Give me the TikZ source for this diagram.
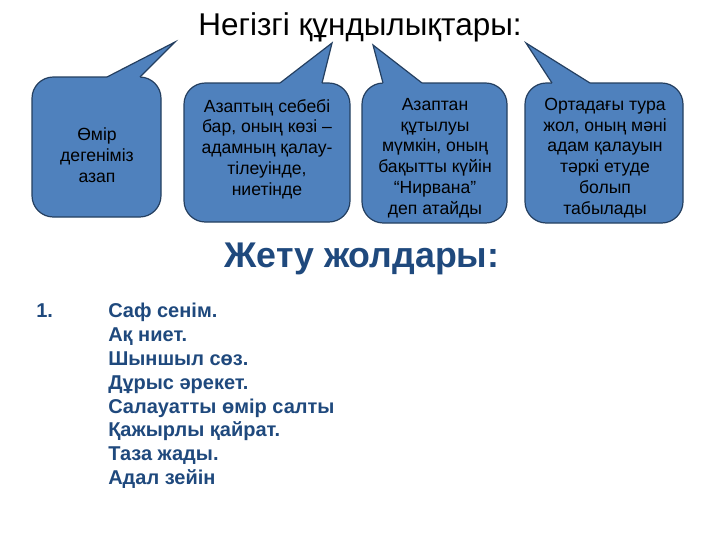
\documentclass[tikz,border=0pt]{standalone}
\usepackage{fontspec}
\setmainfont{Liberation Sans}
\definecolor{cfill}{HTML}{4F81BD}
\definecolor{cline}{HTML}{243F60}
\definecolor{hblue}{HTML}{1F497D}
\newcommand{\mycallout}[9]{%
  % #1 left, #2 top, #3 right, #4 bottom, #5 base left, #6 base right, #7 tip x, #8 tip y
  \filldraw[fill=cfill,draw=cline,line width=0.9pt,rounded corners=16pt] (#1,#2) rectangle (#3,#4);
  \fill[cfill] (#5,#2+2) -- (#5,#2) -- (#7,#8) -- (#6,#2) -- (#6,#2+2) -- cycle;
  \draw[cline,line width=0.9pt,line join=miter] (#5,#2) -- (#7,#8) -- (#6,#2);
  \coordinate (#9) at (#7,#8);
}
\tikzset{
  ctext/.style={align=center,font=\fontsize{13.2}{15.6}\selectfont,text=black,inner sep=0pt},
  litem/.style={anchor=base west,font=\fontsize{15}{18}\selectfont\bfseries,text=hblue,inner sep=0pt}
}
\begin{document}
\begin{tikzpicture}[x=0.75pt,y=-0.75pt]
\useasboundingbox (0,0) rectangle (720,540);
\node[anchor=base,font=\fontsize{23.6}{27}\selectfont,inner sep=0pt] (title) at (360,35) {Негізгі құндылықтары:};
\mycallout{32}{77}{161}{217}{107}{140}{175}{42}{tip1}
\mycallout{184}{83}{350}{222}{280}{322}{332}{43}{tip2}
\mycallout{362}{83}{507}{223}{383}{422}{373}{45}{tip3}
\mycallout{525}{83}{683}{223}{552}{590}{526}{43}{tip4}
\node[ctext] (t1) at (97,155) {Өмір\\дегеніміз\\азап};
\node[ctext] (t2) at (267,149) {Азаптың себебі\\бар, оның көзі –\\адамның қалау-\\тілеуінде,\\ниетінде};
\node[ctext] (t3) at (435,158) {Азаптан\\құтылуы\\мүмкін, оның\\бақытты күйін\\“Нирвана”\\деп атайды};
\node[ctext] (t4) at (605,158) {Ортадағы тура\\жол, оның мәні\\адам қалауын\\тәркі етуде\\болып\\табылады};
\node[anchor=base,font=\fontsize{26.8}{30}\selectfont\bfseries,text=hblue,inner sep=0pt] (head) at (362,267) {Жету жолдары:};
\node[litem] (num) at (36,317) {1.};
\node[litem] (l1) at (108,317) {Саф сенім.};
\node[litem] (l2) at (108,341) {Ақ ниет.};
\node[litem] (l3) at (108,365) {Шыншыл сөз.};
\node[litem] (l4) at (108,389) {Дұрыс әрекет.};
\node[litem] (l5) at (108,413) {Салауатты өмір салты};
\node[litem] (l6) at (108,436) {Қажырлы қайрат.};
\node[litem] (l7) at (108,460) {Таза жады.};
\node[litem] (l8) at (108,484) {Адал зейін};
\end{tikzpicture}
\end{document}
